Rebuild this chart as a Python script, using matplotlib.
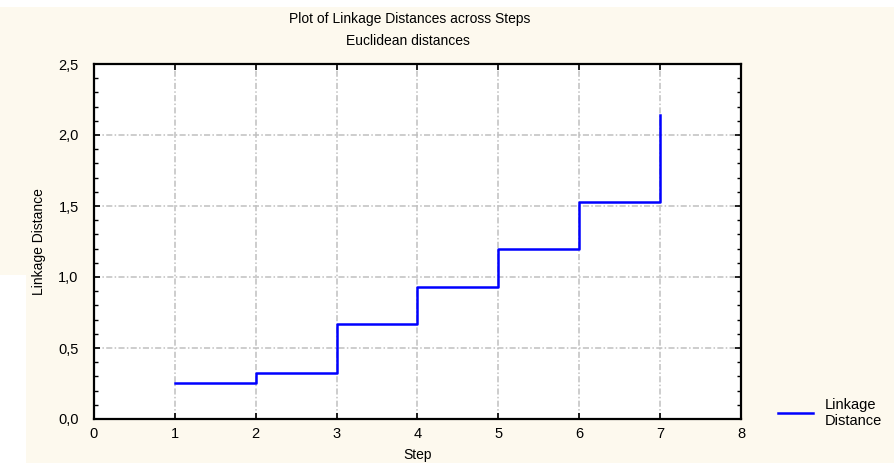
import matplotlib
matplotlib.use("Agg")
import matplotlib.pyplot as plt
from matplotlib.patches import Rectangle
from matplotlib.ticker import MultipleLocator

plt.rcParams['font.family'] = ['Liberation Sans', 'DejaVu Sans']

# data
steps = [1, 2, 3, 4, 5, 6, 7]
linkage = [0.254, 0.324, 0.667, 0.930, 1.195, 1.526, 2.140]

x_ticks = [0, 1, 2, 3, 4, 5, 6, 7, 8]
y_ticks = [0.0, 0.5, 1.0, 1.5, 2.0, 2.5]
y_tick_labels = ['0,0', '0,5', '1,0', '1,5', '2,0', '2,5']

bg = '#fdf9ee'

fig = plt.figure(figsize=(8.95, 4.63), dpi=100, facecolor=bg)

# white patches the original export left in the corners
fig.patches.append(Rectangle((0, 0), 26 / 895, 188 / 463, transform=fig.transFigure,
                             facecolor='white', edgecolor='none', zorder=-5))
fig.patches.append(Rectangle((0, 1 - 7 / 463), 1, 7 / 463, transform=fig.transFigure,
                             facecolor='white', edgecolor='none', zorder=-5))

ax = fig.add_axes([94 / 895, 44 / 463, 647 / 895, 355 / 463])
ax.set_facecolor('white')

ax.step(steps, linkage, where='post', color='#0000ff', lw=1.8, label='Linkage\nDistance')

ax.set_xlim(0, 8)
ax.set_ylim(0, 2.5)
ax.set_xticks(x_ticks)
ax.set_yticks(y_ticks)
ax.set_yticklabels(y_tick_labels)
ax.yaxis.set_minor_locator(MultipleLocator(0.1))

ax.grid(True, which='major', color='#c0c0c0', linestyle=(0, (4, 1.5, 1, 1.5)), lw=1.1)
ax.set_axisbelow(True)

for sp in ax.spines.values():
    sp.set_linewidth(1.6)
    sp.set_color('black')

ax.tick_params(which='both', direction='in', top=True, right=True, labelsize=10.5)
ax.tick_params(which='major', length=4, width=1.2)
ax.tick_params(which='minor', length=3, width=1.0)
ax.tick_params(axis='x', pad=6)
ax.tick_params(axis='y', pad=11)

ax.set_xlabel('Step', fontsize=10, labelpad=5)
ax.set_ylabel('Linkage Distance', fontsize=10, labelpad=9)

fig.text(0.458, 1 - 19 / 463, 'Plot of Linkage Distances across Steps', ha='center', va='center', fontsize=10)
fig.text(0.456, 1 - 41 / 463, 'Euclidean distances', ha='center', va='center', fontsize=10)

fig.legend(loc='center left', bbox_to_anchor=(765 / 895, 1 - 413 / 463), frameon=False,
           fontsize=10.5, handlelength=2.4, labelspacing=0, handletextpad=0.8)

fig.savefig('out.png', dpi=100, facecolor=bg)
